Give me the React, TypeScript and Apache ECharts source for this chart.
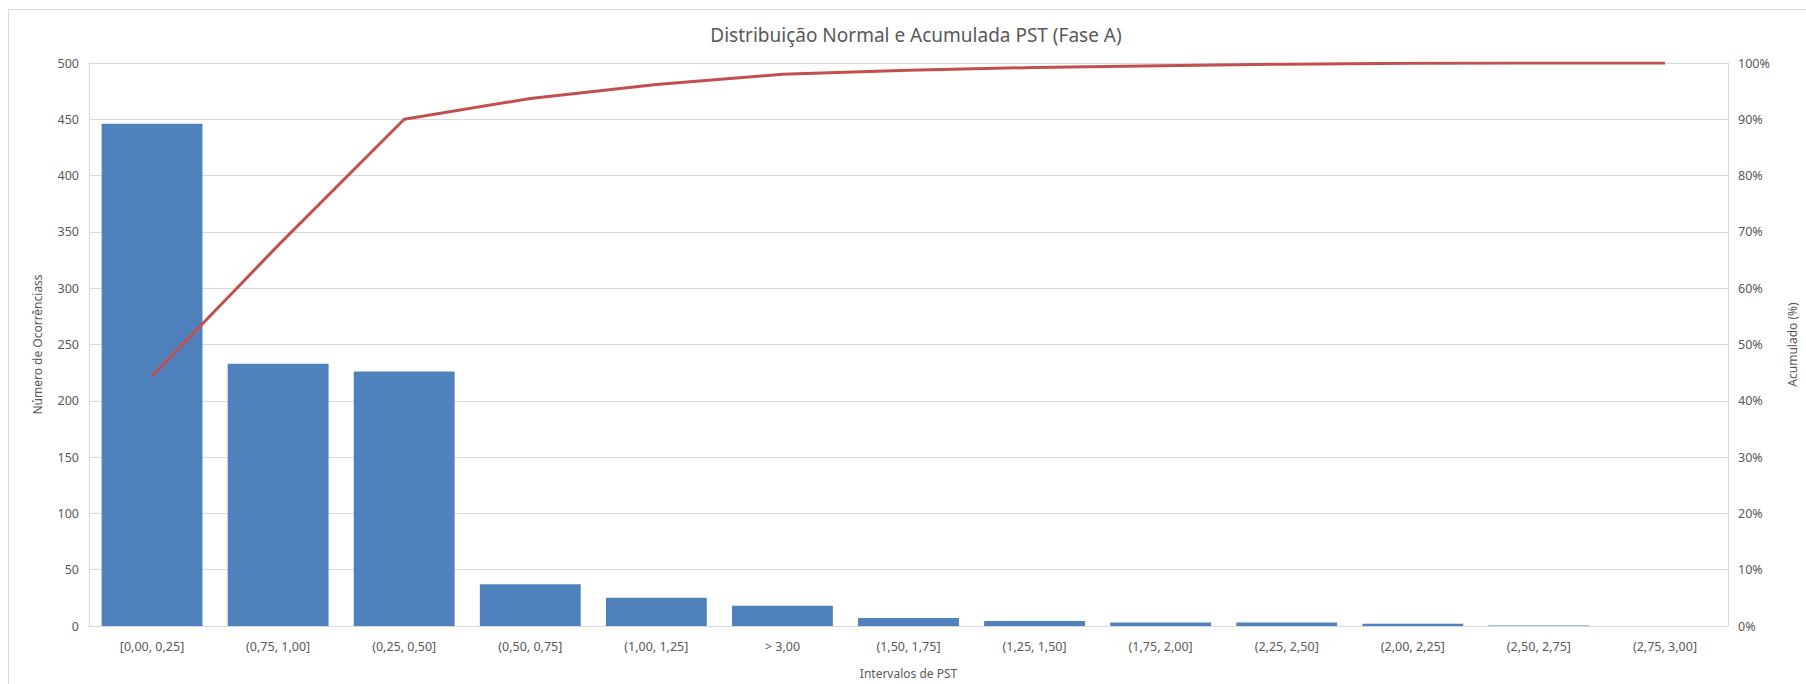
import React, { useEffect, useRef } from "react";
import * as echarts from "echarts";

const categories = [
  "[0,00, 0,25]",
  "(0,75, 1,00]",
  "(0,25, 0,50]",
  "(0,50, 0,75]",
  "(1,00, 1,25]",
  "> 3,00",
  "(1,50, 1,75]",
  "(1,25, 1,50]",
  "(1,75, 2,00]",
  "(2,25, 2,50]",
  "(2,00, 2,25]",
  "(2,50, 2,75]",
  "(2,75, 3,00]",
];

const occurrences = [446, 233, 226, 37, 25, 18, 7, 4.5, 3, 3, 2, 0.5, 0];

const cumulativePct = [44.4, 67.6, 90.0, 93.7, 96.2, 98.0, 98.7, 99.2, 99.5, 99.8, 99.95, 100, 100];

const titleText = "Distribuição Normal e Acumulada PST (Fase A)";
const xName = "Intervalos de PST";
const yLeftName = "Número de Ocorrênciass";
const yRightName = "Acumulado (%)";

const FONT = "'Noto Sans', 'Open Sans', sans-serif";
const TXT = "#595959";
const GRID = "#d9d9d9";

export default function App() {
  const ref = useRef<HTMLDivElement>(null);

  useEffect(() => {
    if (!ref.current) return;
    const chart = echarts.init(ref.current, undefined, { renderer: "svg" });
    chart.setOption({
      animation: false,
      textStyle: { fontFamily: FONT },
      graphic: [
        {
          type: "text",
          x: 907,
          y: 25,
          style: {
            text: titleText,
            fontSize: 19,
            fontFamily: FONT,
            fill: TXT,
            align: "center",
            verticalAlign: "middle",
          },
        },
      ],
      grid: { left: 80, right: 67, top: 53, bottom: 52, containLabel: false },
      xAxis: {
        type: "category",
        data: categories,
        name: xName,
        nameLocation: "middle",
        nameGap: 41,
        nameTextStyle: { color: TXT, fontSize: 12, fontFamily: FONT },
        axisLine: { show: true, lineStyle: { color: GRID, width: 1 } },
        axisTick: { show: false },
        axisLabel: { color: TXT, fontSize: 12.5, margin: 14, interval: 0, fontFamily: FONT },
      },
      yAxis: [
        {
          type: "value",
          min: 0,
          max: 500,
          interval: 50,
          name: yLeftName,
          nameLocation: "middle",
          nameGap: 46,
          nameRotate: 90,
          nameTextStyle: { color: TXT, fontSize: 12, fontFamily: FONT },
          axisLine: { show: true, lineStyle: { color: GRID, width: 1 } },
          axisTick: { show: false },
          axisLabel: { color: TXT, fontSize: 12.5, margin: 10, fontFamily: FONT },
          splitLine: { show: true, lineStyle: { color: GRID, width: 1 } },
        },
        {
          type: "value",
          min: 0,
          max: 100,
          interval: 10,
          position: "right",
          name: yRightName,
          nameLocation: "middle",
          nameGap: 58,
          nameRotate: 90,
          nameTextStyle: { color: TXT, fontSize: 12, fontFamily: FONT },
          axisLine: { show: true, lineStyle: { color: GRID, width: 1 } },
          axisTick: { show: false },
          axisLabel: { color: TXT, fontSize: 12.5, margin: 10, formatter: "{value}%", fontFamily: FONT },
          splitLine: { show: false },
        },
      ],
      series: [
        {
          type: "bar",
          data: occurrences,
          yAxisIndex: 0,
          barCategoryGap: "20%",
          itemStyle: { color: "#4F81BD" },
        },
        {
          type: "line",
          data: cumulativePct,
          yAxisIndex: 1,
          symbol: "none",
          lineStyle: { color: "#C0504D", width: 3 },
          itemStyle: { color: "#C0504D" },
        },
      ],
    });
    return () => chart.dispose();
  }, []);

  return (
    <div
      style={{
        position: "absolute",
        left: 8,
        top: 9,
        width: 1798,
        height: 675,
        borderTop: "1px solid #d9d9d9",
        borderLeft: "1px solid #d9d9d9",
        boxSizing: "border-box",
        background: "#fff",
        overflow: "hidden",
      }}
    >
      <div ref={ref} style={{ width: 1797, height: 674 }} />
    </div>
  );
}
